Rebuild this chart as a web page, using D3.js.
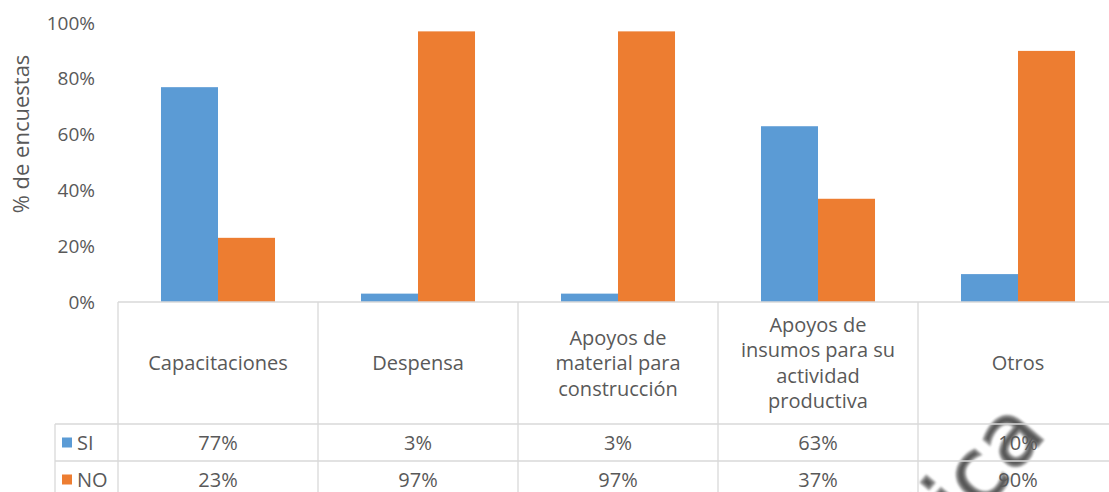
<!DOCTYPE html>
<html>
<head>
<meta charset="utf-8">
<script src="https://cdn.jsdelivr.net/npm/d3@7"></script>
<style>
  html, body { margin: 0; padding: 0; background: #fff; }
  svg { display: block; }
  text { font-family: "Open Sans", Lato, sans-serif; fill: #595959; }
</style>
</head>
<body>
<svg id="chart" width="1109" height="492"></svg>
<script>
// Survey responses: share of respondents per type of support received
const categories = [
  ["Capacitaciones"],
  ["Despensa"],
  ["Apoyos de", "material para", "construcción"],
  ["Apoyos de", "insumos para su", "actividad", "productiva"],
  ["Otros"]
];
const seriesNames = ["SI", "NO"];
const siValues = [77, 3, 3, 63, 10];
const noValues = [23, 97, 97, 37, 90];
const yTicks = [0, 20, 40, 60, 80, 100];
const colors = { SI: "#5B9BD5", NO: "#ED7D31" };

const svg = d3.select("#chart");
const plot = { left: 118, right: 1118, top: 23, bottom: 302 };
const gridColor = "#d9d9d9";
const fontSize = 20;

const catKeys = categories.map((c, i) => i);
const x0 = d3.scaleBand().domain(catKeys).range([plot.left, plot.right]).padding(0);
const x1 = d3.scaleBand().domain(seriesNames).range([0, x0.bandwidth()])
  .paddingInner(0).paddingOuter(0.754);
const y = d3.scaleLinear().domain([0, 100]).range([plot.bottom, plot.top]);

// Watermark lettering in the lower right corner (drawn under the table text)
const defs = svg.append("defs");
defs.append("filter").attr("id", "soft").append("feGaussianBlur").attr("stdDeviation", 1.1);
svg.append("text")
  .attr("transform", "translate(1048,434) rotate(-50)")
  .attr("text-anchor", "end")
  .style("font-size", "88px")
  .style("font-family", "'DejaVu Sans', sans-serif")
  .attr("fill", "#ffffff")
  .attr("stroke", "#8c8c8c")
  .attr("stroke-width", 2.4)
  .attr("filter", "url(#soft)")
  .text("lica");

// Y axis tick labels
const yAxis = d3.axisLeft(y).tickValues(yTicks).tickFormat(d => d + "%").tickSize(0).tickPadding(0);
const gy = svg.append("g").attr("transform", `translate(95,0)`).call(yAxis);
gy.select(".domain").remove();
gy.selectAll("text").style("font-size", "19px").attr("fill", "#595959")
  .style("font-family", "'Open Sans', Lato, sans-serif");

// Y axis title
svg.append("text")
  .attr("transform", `translate(29,134) rotate(-90)`)
  .attr("text-anchor", "middle")
  .style("font-size", "22px")
  .text("% de encuestas");

// Bars
const rows = categories.map((c, i) => ({ i, SI: siValues[i], NO: noValues[i] }));
svg.append("g").selectAll("g").data(rows).join("g")
  .attr("transform", d => `translate(${x0(d.i)},0)`)
  .selectAll("rect")
  .data(d => seriesNames.map(s => ({ s, v: d[s] })))
  .join("rect")
  .attr("x", d => x1(d.s))
  .attr("width", x1.bandwidth())
  .attr("y", d => y(d.v))
  .attr("height", d => y(0) - y(d.v))
  .attr("fill", d => colors[d.s]);

// Data table under the plot
const rowTop = plot.bottom;       // category row
const siTop = 424;                // SI row
const noTop = 461;                // NO row
const tableBottom = 498;
const legendLeft = 55;
const table = svg.append("g").attr("stroke", gridColor).attr("stroke-width", 1.3);

table.append("line").attr("x1", plot.left).attr("x2", plot.right)
  .attr("y1", rowTop).attr("y2", rowTop);
[siTop, noTop].forEach(yy => table.append("line")
  .attr("x1", legendLeft).attr("x2", plot.right).attr("y1", yy).attr("y2", yy));
table.append("line").attr("x1", legendLeft).attr("x2", legendLeft)
  .attr("y1", siTop).attr("y2", tableBottom);
catKeys.concat([catKeys.length]).forEach(i => {
  const xx = i < catKeys.length ? x0(i) : plot.right;
  table.append("line").attr("x1", xx).attr("x2", xx).attr("y1", rowTop).attr("y2", tableBottom);
});

// Category labels (multi-line, centred in the cell)
const lineH = 25.5;
const labelCenter = 363;
categories.forEach((lines, i) => {
  const cx = x0(i) + x0.bandwidth() / 2;
  const t = svg.append("text").attr("text-anchor", "middle").style("font-size", fontSize + "px");
  lines.forEach((ln, k) => {
    t.append("tspan").attr("x", cx)
      .attr("y", labelCenter + (k - (lines.length - 1) / 2) * lineH)
      .attr("dy", "0.35em").text(ln);
  });
});

// Value rows with legend keys
const seriesRows = [{ s: "SI", vals: siValues, top: siTop }, { s: "NO", vals: noValues, top: noTop }];
seriesRows.forEach(r => {
  const cy = r.top + (noTop - siTop) / 2;
  svg.append("rect").attr("x", 62).attr("y", cy - 5).attr("width", 10).attr("height", 10)
    .attr("fill", colors[r.s]);
  svg.append("text").attr("x", 77).attr("y", cy).attr("dy", "0.35em")
    .style("font-size", fontSize + "px").text(r.s);
  r.vals.forEach((v, i) => {
    svg.append("text").attr("x", x0(i) + x0.bandwidth() / 2).attr("y", cy).attr("dy", "0.35em")
      .attr("text-anchor", "middle").style("font-size", fontSize + "px").text(v + "%");
  });
});
</script>
</body>
</html>
